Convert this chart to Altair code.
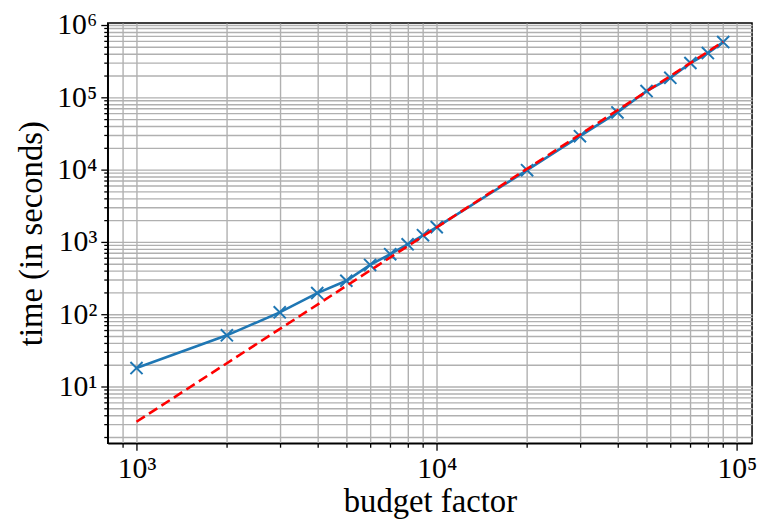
import altair as alt
import pandas as pd

# measured data
budget = [1000, 2000, 3000, 4000, 5000, 6000, 7000, 8000, 9000, 10000,
          20000, 30000, 40000, 50000, 60000, 70000, 80000, 90000]
times = [18, 51, 106, 196, 290, 480, 675, 925, 1236, 1600,
         9820, 28970, 61700, 122000, 186000, 298000, 409000, 580000]

# fitted power law (red dashed)
fit_x = [1000, 90000]
fit_y = [3.25, 586000]

x_major = [1000, 10000, 100000]
y_major = [1, 10, 100, 1000, 10000, 100000, 1000000]
x_domain = [802, 112300]
y_domain = [1.64, 1.064e6]

def minor_ticks(lo, hi):
    vals = []
    for e in range(-1, 8):
        for k in range(1, 10):
            v = k * 10 ** e
            if lo <= v <= hi:
                vals.append(v)
    return vals

x_ticks = minor_ticks(*x_domain)
y_ticks = minor_ticks(*y_domain)

df = pd.DataFrame({"budget": budget, "time": times})
fit = pd.DataFrame({"budget": fit_x, "time": fit_y})

is_major = "abs(log(datum.value)/LN10 - round(log(datum.value)/LN10)) < 1e-6"
label_expr = ("(" + is_major + ") ? '10' + ['⁰','¹','²','³','⁴','⁵','⁶','⁷'][round(log(datum.value)/LN10)] : ''")

FONT = "Liberation Serif"

def make_axis(title, values, orient, title_pad):
    return alt.Axis(
        title=title,
        values=values,
        labelExpr=label_expr,
        labelOverlap=False,
        labelFont=FONT,
        labelFontSize=30,
        labelColor="black",
        labelPadding=4,
        titleFont=FONT,
        titleFontSize=33,
        titleFontWeight="normal",
        titleColor="black",
        titlePadding=title_pad,
        grid=True,
        gridColor="#b0b0b0",
        gridWidth=1.4,
        tickColor="black",
        tickWidth=1.3,
        tickSize={"condition": {"test": is_major, "value": 7}, "value": 4},
        domainColor="black",
        domainWidth=1.5,
        orient=orient,
    )

x_enc = alt.X("budget:Q",
              scale=alt.Scale(type="log", domain=x_domain, nice=False),
              axis=make_axis("budget factor", x_ticks, "bottom", 2))
y_enc = alt.Y("time:Q",
              scale=alt.Scale(type="log", domain=y_domain, nice=False),
              axis=make_axis("time (in seconds)", y_ticks, "left", 8))

line = alt.Chart(df).mark_line(color="#1f77b4", strokeWidth=2.6, clip=True).encode(x=x_enc, y=y_enc)
pts = alt.Chart(df).mark_point(
    shape="M-1,-1L1,1M1,-1L-1,1", size=150, filled=False,
    color="#1f77b4", strokeWidth=2, opacity=1, clip=True
).encode(x="budget:Q", y="time:Q")
fitline = alt.Chart(fit).mark_line(
    color="#ff0000", strokeWidth=2.6, strokeDash=[10, 5], clip=True
).encode(x="budget:Q", y="time:Q")

chart = alt.layer(line, pts, fitline).properties(
    width=650.6, height=424.3,
    autosize=alt.AutoSizeParams(type="none"),
    padding={"left": 100.7, "top": 12.7, "right": 5, "bottom": 75},
    background="white",
).configure_view(stroke="black", strokeWidth=1.5)

chart.save("out.html", embed_options={"renderer": "svg", "actions": False})
